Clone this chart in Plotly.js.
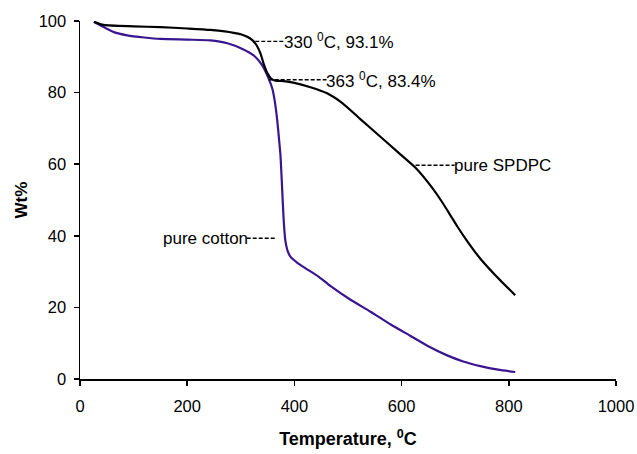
<!DOCTYPE html>
<html>
<head>
<meta charset="utf-8">
<script src="https://cdn.plot.ly/plotly-3.0.1.min.js"></script>
<style>html,body{margin:0;padding:0;background:#fff}#chart{width:637px;height:454px}</style>
</head>
<body>
<div id="chart"></div>
<script>
// pure SPDPC (black)
const spdpcT = [26, 44, 100, 150, 200, 243, 270, 287, 300, 312, 322, 330, 337, 343, 350, 356, 363, 380, 400, 430, 461, 490, 523, 561, 592, 626, 654, 673, 690, 704, 722, 747, 778, 812];
const spdpcW = [99.8, 98.9, 98.5, 98.3, 97.9, 97.5, 97.1, 96.7, 96.3, 95.6, 94.6, 93.1, 90.8, 87.9, 85.3, 84.0, 83.4, 83.2, 82.7, 81.5, 79.8, 77.0, 72.6, 67.6, 63.5, 59.0, 54.0, 50.0, 46.0, 42.6, 38.6, 33.6, 28.5, 23.4];
// pure cotton (purple)
const cottonT = [26, 44, 63, 88, 120, 150, 200, 243, 275, 303, 324, 340, 352, 359, 364, 368, 371, 374, 377, 380, 383, 388, 393, 405, 421, 445, 467, 504, 542, 579, 617, 648, 685, 715, 747, 780, 812];
const cottonW = [99.7, 98.3, 96.9, 96.0, 95.4, 95.0, 94.8, 94.6, 93.8, 92.2, 90.4, 87.6, 83.9, 81.0, 77.0, 72.2, 67.5, 62.5, 53.6, 44.4, 38.8, 35.5, 34.1, 32.5, 30.9, 28.6, 26.0, 22.2, 18.8, 15.3, 12.0, 9.3, 6.6, 4.9, 3.6, 2.6, 1.95];
const xTicks = [0, 200, 400, 600, 800, 1000];
const yTicks = [0, 20, 40, 60, 80, 100];
const labels = ["330 <sup>0</sup>C, 93.1%", "363 <sup>0</sup>C, 83.4%", "pure SPDPC", "pure cotton"];

const FONT = 'Liberation Sans, Arial, sans-serif';
const traces = [
  {x: cottonT, y: cottonW, mode: 'lines', line: {color: '#3a1590', width: 2.2, shape: 'spline', smoothing: 0.6}, hoverinfo: 'skip'},
  {x: spdpcT, y: spdpcW, mode: 'lines', line: {color: '#000000', width: 2.2, shape: 'spline', smoothing: 0.6}, hoverinfo: 'skip'}
];
const leaders = [
  {x0: 327, x1: 383, y: 94.3, text: labels[0], anchor: 'left'},
  {x0: 352, x1: 460, y: 83.6, text: labels[1], anchor: 'left'},
  {x0: 626, x1: 699, y: 59.7, text: labels[2], anchor: 'left'},
  {x0: 311, x1: 365, y: 39.3, text: labels[3], anchor: 'right'}
];
const shapes = leaders.map(l => ({type: 'line', xref: 'x', yref: 'y', x0: l.x0, x1: l.x1, y0: l.y, y1: l.y,
  line: {color: '#000', width: 1.4, dash: '4px,2px'}}));
const annotations = leaders.map(l => ({xref: 'x', yref: 'y', x: l.anchor === 'left' ? l.x1 : l.x0, y: l.y,
  text: l.text, showarrow: false, xanchor: l.anchor, yanchor: 'middle', xshift: l.anchor === 'left' ? -3 : 3,
  font: {family: FONT, size: 17, color: '#000'}}));

const layout = {
  width: 637, height: 454,
  margin: {l: 79.5, r: 21.3, t: 21, b: 75},
  paper_bgcolor: '#fff', plot_bgcolor: '#fff',
  showlegend: false,
  font: {family: FONT, size: 16.5, color: '#000'},
  xaxis: {range: [0, 1000], tickvals: xTicks, ticktext: xTicks.map(String), ticks: 'outside', ticklen: 5, tickwidth: 1.5,
    tickcolor: '#000', showline: true, linecolor: '#000', linewidth: 1.5, showgrid: false, zeroline: false,
    ticklabelstandoff: 7,
    title: {text: '<b>Temperature, <sup>0</sup>C</b>', font: {family: FONT, size: 18}, standoff: 18},
    tickfont: {family: FONT, size: 16.5}},
  yaxis: {range: [0, 100], tickvals: yTicks, ticktext: yTicks.map(String), ticks: 'outside', ticklen: 5, tickwidth: 1.5,
    tickcolor: '#000', showline: true, linecolor: '#000', linewidth: 1.5, showgrid: false, zeroline: false,
    ticklabelstandoff: 4,
    title: {text: '<b>Wt%</b>', font: {family: FONT, size: 17}, standoff: 6},
    tickfont: {family: FONT, size: 16.5}},
  shapes: shapes,
  annotations: annotations
};
Plotly.newPlot('chart', traces, layout, {displayModeBar: false, staticPlot: true});
</script>
</body>
</html>
